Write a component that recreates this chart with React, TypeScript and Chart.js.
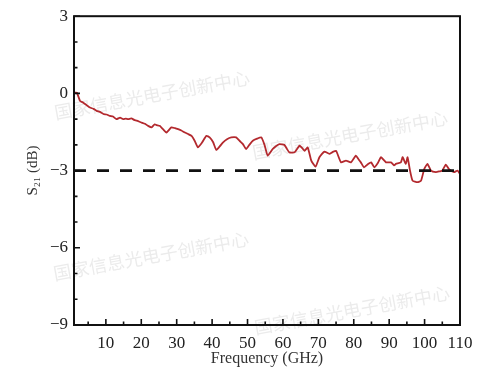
import React, { useEffect, useRef } from "react";
import { Chart, registerables } from "chart.js";

Chart.register(...registerables);

// ---- data ----
const freqGHz = [
  1, 1.8, 2.7, 3.6, 4.5, 5.5, 6.5, 7.4, 8.3, 9.3,
  10.2, 11.1, 12, 13, 14, 14.9, 15.6, 16.3, 17.2, 18,
  18.7, 20, 21, 21.9, 22.9, 23.8, 24.3, 25.2, 26.2, 27.1,
  28.5, 29.5, 30.4, 31.3, 32.3, 33.2, 34.2, 35.1, 36, 37.2,
  38.4, 39.3, 40.3, 41.2, 42.2, 43.1, 44.2, 45.4, 46.8, 47.8,
  48.7, 49.6, 50.5, 51.5, 52.7, 53.9, 54.8, 55.7, 57.1, 58,
  59, 60.4, 61.1, 61.8, 63.3, 64.7, 65.4, 66.1, 67, 68,
  69.2, 70.3, 71.7, 73.1, 74, 75, 76.4, 77.8, 79.2, 80.6,
  81.3, 82, 82.9, 84, 84.9, 85.8, 86.8, 87.7, 89.1, 90.5,
  91.4, 91.9, 93.3, 93.8, 94.7, 95.2, 95.8, 96.6, 98, 99,
  99.9, 100.8, 101.8, 103.2, 104.2, 105, 106, 106.9, 108.3, 109.3,
  110,
];
const s21dB = [
  0.03, 0.03, -0.29, -0.36, -0.45, -0.55, -0.6, -0.68, -0.72, -0.8,
  -0.82, -0.87, -0.9, -1.0, -0.94, -1.0, -0.98, -1.0, -0.97, -1.03,
  -1.06, -1.13, -1.18, -1.26, -1.32, -1.2, -1.23, -1.26, -1.4, -1.52,
  -1.32, -1.35, -1.39, -1.44, -1.52, -1.58, -1.65, -1.85, -2.1, -1.9,
  -1.65, -1.71, -1.9, -2.2, -2.05, -1.9, -1.78, -1.71, -1.71, -1.85,
  -1.97, -2.16, -2.0, -1.84, -1.76, -1.71, -2.0, -2.42, -2.16, -2.05,
  -1.97, -2.0, -2.15, -2.29, -2.29, -2.03, -2.12, -2.23, -2.1, -2.61,
  -2.85, -2.48, -2.26, -2.35, -2.28, -2.23, -2.68, -2.61, -2.68, -2.42,
  -2.55, -2.68, -2.87, -2.75, -2.68, -2.87, -2.7, -2.48, -2.68, -2.68,
  -2.8, -2.74, -2.68, -2.48, -2.74, -2.48, -2.94, -3.39, -3.45, -3.39,
  -2.94, -2.74, -3.0, -3.06, -3.03, -3.0, -2.77, -2.94, -3.06, -3.0,
  -3.13,
];
const refLevelDB = -3;
const xTickLabels = [10, 20, 30, 40, 50, 60, 70, 80, 90, 100, 110];
const yTickLabels = [-9, -6, -3, 0, 3];
const xMinorStep = 5;
const yMinorStep = 1;
const xTitle = "Frequency (GHz)";
const yTitle = "S\u2082\u2081 (dB)";
const watermarkText = "国家信息光电子创新中心";

const SERIF = "'Liberation Serif', 'Times New Roman', serif";

const watermarkPlugin = {
  id: "watermark",
  beforeDatasetsDraw(chart: any) {
    const { ctx } = chart;
    const spots = [
      [152, 95],
      [350, 135],
      [151, 256],
      [352, 310],
    ];
    ctx.save();
    ctx.font = "18px 'Noto Sans CJK SC', sans-serif";
    ctx.fillStyle = "rgba(190,190,190,0.3)";
    ctx.textAlign = "center";
    ctx.textBaseline = "middle";
    for (const [cx, cy] of spots) {
      ctx.save();
      ctx.translate(cx, cy);
      ctx.rotate(-0.18);
      ctx.fillText(watermarkText, 0, 0);
      ctx.restore();
    }
    ctx.restore();
  },
};

const framePlugin = {
  id: "frame",
  afterDraw(chart: any) {
    const { ctx, chartArea, scales } = chart;
    const { left, top, right, bottom } = chartArea;
    const xs = scales.x;
    const ys = scales.y;
    ctx.save();
    ctx.strokeStyle = "#111";
    ctx.lineWidth = 2;
    ctx.strokeRect(left, top, right - left, bottom - top);
    ctx.lineWidth = 1.6;
    ctx.beginPath();
    for (let v = xMinorStep; v <= xs.max + 1e-9; v += xMinorStep) {
      const px = xs.getPixelForValue(v);
      const len = xTickLabels.includes(v) ? 6 : 3.5;
      ctx.moveTo(px, bottom);
      ctx.lineTo(px, bottom - len);
    }
    for (let v = ys.min; v <= ys.max + 1e-9; v += yMinorStep) {
      const py = ys.getPixelForValue(v);
      const len = yTickLabels.includes(v) ? 6 : 3.5;
      ctx.moveTo(left, py);
      ctx.lineTo(left + len, py);
    }
    ctx.stroke();
    ctx.restore();
  },
};

export default function App() {
  const canvasRef = useRef<HTMLCanvasElement | null>(null);

  useEffect(() => {
    document.body.style.margin = "0";
    const canvas = canvasRef.current;
    if (!canvas) return;
    const curve = freqGHz.map((f, i) => ({ x: f, y: s21dB[i] }));
    const refLine = [
      { x: freqGHz[0], y: refLevelDB },
      { x: freqGHz[freqGHz.length - 1], y: refLevelDB },
    ];
    const chart = new Chart(canvas, {
      type: "line",
      data: {
        datasets: [
          {
            data: refLine,
            borderColor: "#111",
            borderWidth: 2.6,
            borderDash: [12, 11],
            pointRadius: 0,
            fill: false,
          },
          {
            data: curve,
            borderColor: "#b3292e",
            borderWidth: 1.8,
            pointRadius: 0,
            tension: 0.15,
            fill: false,
          },
        ],
      },
      options: {
        animation: false,
        responsive: false,
        devicePixelRatio: 1,
        layout: { padding: { left: 0, top: 15, right: 40, bottom: 0 } },
        plugins: {
          legend: { display: false },
          tooltip: { enabled: false },
        },
        scales: {
          x: {
            type: "linear",
            min: 1,
            max: 110,
            grid: { display: false, drawTicks: false },
            border: { display: false },
            afterBuildTicks: (scale: any) => {
              scale.ticks = xTickLabels.map((v) => ({ value: v }));
            },
            afterFit: (scale: any) => {
              scale.height = 43;
            },
            ticks: {
              padding: 8,
              color: "#222",
              font: { family: SERIF, size: 17 },
              maxRotation: 0,
              autoSkip: false,
            },
            title: {
              display: true,
              text: xTitle,
              color: "#333",
              font: { family: SERIF, size: 16 },
              padding: { top: 0, bottom: 0 },
            },
          },
          y: {
            min: -9,
            max: 3,
            grid: { display: false, drawTicks: false },
            border: { display: false },
            afterBuildTicks: (scale: any) => {
              scale.ticks = yTickLabels.map((v) => ({ value: v }));
            },
            afterFit: (scale: any) => {
              scale.width = 74;
            },
            ticks: {
              padding: 6,
              color: "#222",
              font: { family: SERIF, size: 17 },
              callback: (v: any) => (Number(v) < 0 ? "\u2212" + Math.abs(Number(v)) : String(v)),
            },
            title: {
              display: true,
              text: yTitle,
              color: "#333",
              font: { family: SERIF, size: 15 },
              padding: { top: 24, bottom: 0 },
            },
          },
        },
      },
      plugins: [watermarkPlugin, framePlugin],
    });
    return () => chart.destroy();
  }, []);

  return (
    <div style={{ width: 500, height: 368, background: "#fff" }}>
      <canvas ref={canvasRef} width={500} height={368} style={{ display: "block" }} />
    </div>
  );
}
